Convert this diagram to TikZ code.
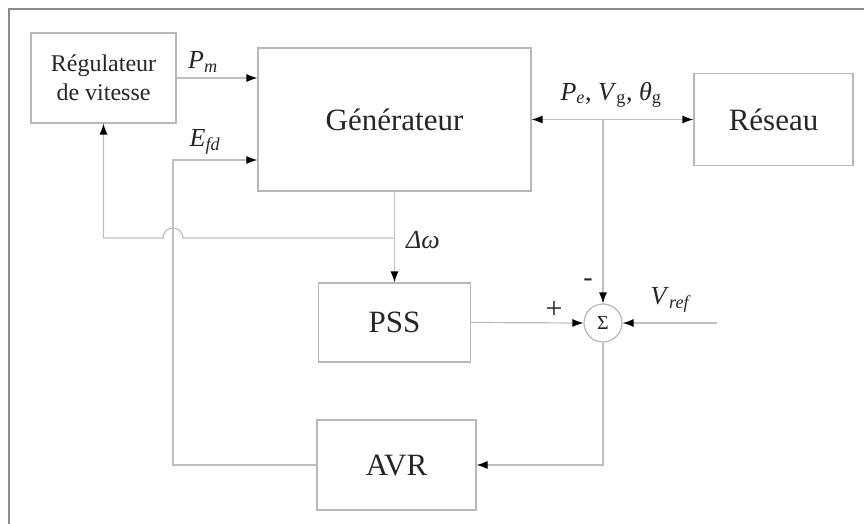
\documentclass[tikz,border=0pt]{standalone}
\usepackage{fontspec}
\setmainfont{Liberation Serif}
\usetikzlibrary{arrows.meta,calc}
\begin{document}
\begin{tikzpicture}[x=1pt,y=-1pt,
  blk/.style={draw=black!28,line width=1.2pt,rectangle,inner sep=0pt,text=black!85,
     font=\fontsize{31}{34}\selectfont},
  wire/.style={draw=black!25,line width=1.2pt},
  arr/.style={wire,-{Latex[length=11pt,width=8pt,color=black]}},
  arrb/.style={wire,{Latex[length=11pt,width=8pt,color=black]}-{Latex[length=11pt,width=8pt,color=black]}},
  lbl/.style={text=black!85,inner sep=0pt,font=\fontsize{26}{28}\selectfont}]
\useasboundingbox (0,0) rectangle (864,524);
\draw[black!45,line width=1.5pt] (864,9) -- (9,9) -- (9,524);
% blocks
\node[blk,minimum width=145pt,minimum height=90pt,align=center,font=\fontsize{24}{29}\selectfont] (reg) at (103.5,78) {Régulateur\\de vitesse};
\node[blk,minimum width=273pt,minimum height=143pt] (gen) at (394.5,119.5) {Générateur};
\node[blk,minimum width=159pt,minimum height=92pt] (res) at (773.5,119.5) {Réseau};
\node[blk,minimum width=152pt,minimum height=79pt] (pss) at (394.5,322.5) {PSS};
\node[blk,minimum width=159pt,minimum height=90pt] (avr) at (396.5,465) {AVR};
\node[draw=black!28,line width=1.2pt,circle,minimum size=38pt,inner sep=0pt,text=black!85,font=\fontsize{20}{22}\selectfont] (sum) at (603,323) {Σ};
% coordinates
\coordinate (efd) at (173,160);
\coordinate (dw) at (394.5,238);
\coordinate (vref) at (717,323);
\coordinate (tap) at (sum.north |- gen.east);
% connectors
\draw[arr] (reg.east) -- (reg.east -| gen.west);
\draw[arr] (avr.west) -| (efd) -- (efd -| gen.west);
\draw[arr] (gen.south) -- (pss.north);
\draw[arr] (dw) -- (183,238) arc (0:180:10pt) -- (reg.south |- dw) -- (reg.south);
\draw[arrb] (gen.east) -- (res.west);
\draw[arr] (tap) -- (sum.north);
\draw[arr] (pss.east) -- (sum.west);
\draw[arr] (vref) -- (sum.east);
\draw[arr] (sum.south) |- (avr.east);
% labels
\node[lbl] (lpm) at (203,62) {\textit{P}\textsubscript{\textit{m}}};
\node[lbl] (lefd) at (205,142) {\textit{E}\textsubscript{\textit{fd}}};
\node[lbl] (ldw) at (423,240) {\textit{Δω}};
\node[lbl] (lpe) at (611,95) {\textit{P}\textsubscript{\textit{e}}, \textit{V}\textsubscript{g}, \textit{θ}\textsubscript{g}};
\node[lbl] (lvref) at (671,300) {\textit{V}\textsubscript{\textit{ref}}};
\node[lbl,font=\fontsize{28}{30}\selectfont] (lminus) at (588,283) {-};
\node[lbl,font=\fontsize{30}{32}\selectfont] (lplus) at (554,310) {+};
\end{tikzpicture}
\end{document}
